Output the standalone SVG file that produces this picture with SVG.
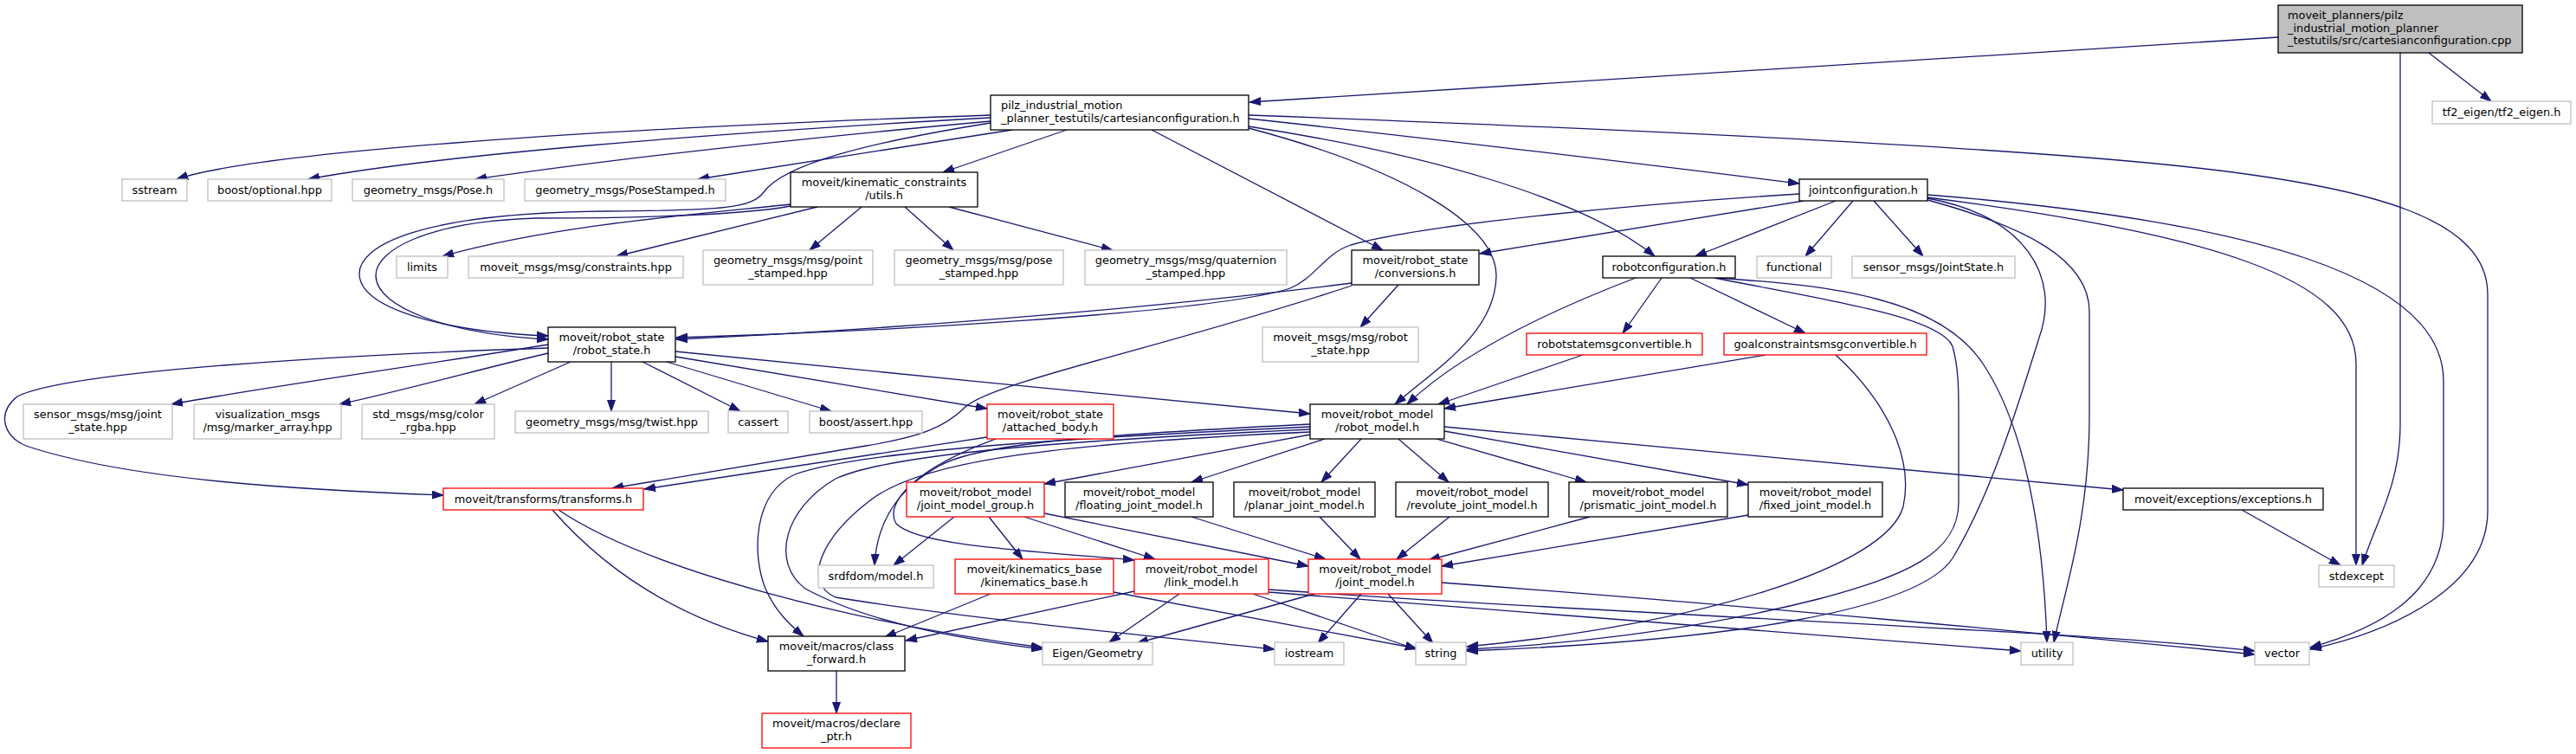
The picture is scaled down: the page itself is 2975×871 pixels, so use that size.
<svg xmlns="http://www.w3.org/2000/svg" width="2975" height="871" viewBox="0 0 2975 871">
<defs>
<marker id="a" markerWidth="14" markerHeight="10" refX="13" refY="5" orient="auto" markerUnits="userSpaceOnUse"><path d="M0,0.5 L13,5 L0,9.5 z" fill="#191970" stroke="#191970" stroke-width="1"/></marker>
</defs>
<style>
.n{fill:#fff;stroke:#000;stroke-width:1.3}
.g{fill:#fff;stroke:#bfbfbf;stroke-width:1.3}
.r{fill:#fff;stroke:#ff0000;stroke-width:1.3}
.root{fill:#bfbfbf;stroke:#000;stroke-width:1.3}
text{font-family:"DejaVu Sans","Liberation Sans",sans-serif;font-size:12.9px;fill:#000}
.c{text-anchor:middle}
#edges path{fill:none;stroke:#191970;stroke-width:1.3;marker-end:url(#a)}
</style>
<rect width="2975" height="871" fill="#fff"/>
<g id="edges">
<path d="M2631,43 L1443,118"/>
<path d="M2805,61 L2877,117"/>
<path d="M2772,61 L2772,490 C2772,560 2745,600 2728,653"/>
<path d="M2226,228 C2550,270 2721,320 2721,420 L2721,653"/>
<path d="M2226,225 C2600,255 2822,320 2822,440 L2822,600 C2822,690 2740,728 2668,748"/>
<path d="M1442,133 C1900,150 2300,170 2500,190 C2750,215 2873,255 2873,340 L2873,590 C2873,680 2760,730 2668,750"/>
<path d="M1442,137 C1700,165 1900,190 2078,212"/>
<path d="M1442,146 C1650,178 1830,230 1911,296"/>
<path d="M1442,148 C1620,195 1730,260 1728,320 C1726,385 1660,425 1611,467"/>
<path d="M1330,150 L1597,289"/>
<path d="M1232,150 L1089,199"/>
<path d="M1169,150 L806,207"/>
<path d="M1144,140 C900,162 700,185 549,207"/>
<path d="M1144,136 C800,155 500,180 356,207"/>
<path d="M1144,133 C700,148 300,175 204,207"/>
<path d="M1144,142 C1000,165 905,190 882,222 C868,240 840,243 700,244 C480,246 415,285 415,316 C415,356 510,383 633,388"/>
<path d="M913,238 C850,250 700,252 620,252 C490,256 434,290 434,318 C434,356 520,386 633,392"/>
<path d="M913,236 C800,248 640,260 511,296"/>
<path d="M944,239 L712,296"/>
<path d="M995,239 L935,289"/>
<path d="M1045,239 L1101,289"/>
<path d="M1096,239 L1285,289"/>
<path d="M1615,329 L1571,378"/>
<path d="M1561,327 C1300,360 1000,382 781,392"/>
<path d="M1561,330 C1350,400 1150,440 1115,470 C1090,495 1060,505 1000,515 L707,564"/>
<path d="M1140,505 L744,565"/>
<path d="M2078,224 C1900,235 1650,258 1560,283 C1530,293 1520,320 1490,333 C1400,362 1000,384 781,390"/>
<path d="M2083,232 L1709,293"/>
<path d="M2120,232 L1958,296"/>
<path d="M2140,232 L2085,296"/>
<path d="M2164,232 L2221,296"/>
<path d="M2226,229 C2340,250 2380,320 2355,390 C2330,470 2300,570 2255,645 C2215,705 2000,740 1694,752"/>
<path d="M2226,231 C2340,262 2413,300 2413,360 L2413,480 C2413,600 2385,680 2372,742"/>
<path d="M1889,321 C1800,355 1690,405 1625,467"/>
<path d="M1919,321 L1874,385"/>
<path d="M1952,321 L2085,385"/>
<path d="M1980,321 C2100,345 2240,365 2255,400 C2262,425 2262,450 2262,480 L2262,580 C2262,640 2200,665 2100,692 C1950,730 1800,745 1694,750"/>
<path d="M1982,321 C2120,330 2240,345 2290,420 C2340,495 2360,620 2364,742"/>
<path d="M1828,410 L1661,467"/>
<path d="M2039,410 L1668,472"/>
<path d="M2120,410 C2180,465 2210,530 2198,585 C2180,655 1960,722 1694,747"/>
<path d="M633,398 C500,420 300,448 198,467"/>
<path d="M633,408 C560,425 470,450 392,467"/>
<path d="M659,418 L548,467"/>
<path d="M706,418 L706,475"/>
<path d="M742,418 L855,475"/>
<path d="M770,418 L960,475"/>
<path d="M780,412 L1140,472"/>
<path d="M780,406 C1000,428 1300,458 1513,478"/>
<path d="M633,402 C400,410 80,428 20,458 C-5,478 5,505 30,515 C150,555 350,566 512,572"/>
<path d="M1150,507 C1060,540 1020,580 1035,605 C1060,630 1180,636 1310,647"/>
<path d="M1513,502 L1206,559"/>
<path d="M1530,507 L1376,557"/>
<path d="M1572,507 L1526,557"/>
<path d="M1615,507 L1673,557"/>
<path d="M1659,507 L1832,557"/>
<path d="M1668,498 L2019,560"/>
<path d="M1668,493 L2452,566"/>
<path d="M1513,493 C1300,503 1000,518 918,548 C870,570 868,640 884,680 C895,705 910,720 928,735"/>
<path d="M1513,496 C1250,508 1030,523 965,553 C905,588 890,650 930,680 C1000,718 1100,737 1204,750"/>
<path d="M1513,499 C1200,513 1060,535 1005,578 C950,620 925,672 965,690 C1100,712 1300,732 1472,750"/>
<path d="M1513,490 C1250,503 1130,513 1085,538 C1030,568 1012,612 1010,653"/>
<path d="M1102,597 L1032,653"/>
<path d="M1142,597 L1181,646"/>
<path d="M1183,597 L1334,646"/>
<path d="M1206,593 L1511,654"/>
<path d="M1376,597 L1531,646"/>
<path d="M1524,597 L1571,646"/>
<path d="M1674,597 L1613,646"/>
<path d="M1836,597 L1650,647"/>
<path d="M2019,595 L1665,654"/>
<path d="M1144,686 L1022,736"/>
<path d="M1286,684 L1636,749"/>
<path d="M1310,683 L1046,740"/>
<path d="M1362,686 L1281,742"/>
<path d="M1447,686 L1636,750"/>
<path d="M1465,684 L2334,752"/>
<path d="M1465,681 C1900,712 2400,728 2604,752"/>
<path d="M1665,673 C2000,698 2400,735 2604,756"/>
<path d="M1518,686 L1313,743"/>
<path d="M1572,686 L1522,743"/>
<path d="M1603,686 L1655,743"/>
<path d="M638,589 C700,660 780,712 887,741"/>
<path d="M645,589 C750,660 1000,722 1204,748"/>
<path d="M966,775 L966,824"/>
<path d="M2589,589 L2703,653"/>
</g>
<g id="n_cpp"><rect class="root" x="2631" y="6" width="282" height="55"/><text x="2642" y="22">moveit_planners/pilz</text><text x="2642" y="37">_industrial_motion_planner</text><text x="2642" y="51">_testutils/src/cartesianconfiguration.cpp</text></g>
<g id="n_tf2"><rect class="g" x="2809" y="117" width="160" height="26"/><text class="c" x="2889" y="134">tf2_eigen/tf2_eigen.h</text></g>
<g id="n_pilz"><rect class="n" x="1144" y="110" width="298" height="40"/><text x="1156" y="126">pilz_industrial_motion</text><text x="1156" y="141">_planner_testutils/cartesianconfiguration.h</text></g>
<g id="n_sstream"><rect class="g" x="141" y="207" width="75" height="25"/><text class="c" x="178.5" y="224">sstream</text></g>
<g id="n_optional"><rect class="g" x="240" y="207" width="143" height="25"/><text class="c" x="311.5" y="224">boost/optional.hpp</text></g>
<g id="n_pose"><rect class="g" x="407" y="207" width="175" height="25"/><text class="c" x="494.5" y="224">geometry_msgs/Pose.h</text></g>
<g id="n_posestamped"><rect class="g" x="606" y="207" width="232" height="25"/><text class="c" x="722" y="224">geometry_msgs/PoseStamped.h</text></g>
<g id="n_utils"><rect class="n" x="913" y="199" width="216" height="40"/><text class="c" x="1021" y="215">moveit/kinematic_constraints</text><text class="c" x="1021" y="230">/utils.h</text></g>
<g id="n_jc"><rect class="n" x="2078" y="207" width="148" height="25"/><text class="c" x="2152" y="224">jointconfiguration.h</text></g>
<g id="n_limits"><rect class="g" x="458" y="296" width="59" height="25"/><text class="c" x="487.5" y="313">limits</text></g>
<g id="n_constraints"><rect class="g" x="541" y="296" width="248" height="25"/><text class="c" x="665" y="313">moveit_msgs/msg/constraints.hpp</text></g>
<g id="n_point"><rect class="g" x="812" y="289" width="196" height="40"/><text class="c" x="910" y="305">geometry_msgs/msg/point</text><text class="c" x="910" y="320">_stamped.hpp</text></g>
<g id="n_posest"><rect class="g" x="1033" y="289" width="195" height="40"/><text class="c" x="1130.5" y="305">geometry_msgs/msg/pose</text><text class="c" x="1130.5" y="320">_stamped.hpp</text></g>
<g id="n_quat"><rect class="g" x="1253" y="289" width="233" height="40"/><text class="c" x="1369.5" y="305">geometry_msgs/msg/quaternion</text><text class="c" x="1369.5" y="320">_stamped.hpp</text></g>
<g id="n_conv"><rect class="n" x="1561" y="289" width="147" height="40"/><text class="c" x="1634.5" y="305">moveit/robot_state</text><text class="c" x="1634.5" y="320">/conversions.h</text></g>
<g id="n_rc"><rect class="n" x="1851" y="296" width="153" height="25"/><text class="c" x="1927.5" y="313">robotconfiguration.h</text></g>
<g id="n_functional"><rect class="g" x="2029" y="296" width="86" height="25"/><text class="c" x="2072" y="313">functional</text></g>
<g id="n_jointstate"><rect class="g" x="2139" y="296" width="188" height="25"/><text class="c" x="2233" y="313">sensor_msgs/JointState.h</text></g>
<g id="n_rs"><rect class="n" x="633" y="378" width="147" height="40"/><text class="c" x="706.5" y="394">moveit/robot_state</text><text class="c" x="706.5" y="409">/robot_state.h</text></g>
<g id="n_msgrs"><rect class="g" x="1458" y="378" width="180" height="40"/><text class="c" x="1548" y="394">moveit_msgs/msg/robot</text><text class="c" x="1548" y="409">_state.hpp</text></g>
<g id="n_rsmc"><rect class="r" x="1763" y="385" width="203" height="25"/><text class="c" x="1864.5" y="402">robotstatemsgconvertible.h</text></g>
<g id="n_gc"><rect class="r" x="1991" y="385" width="234" height="25"/><text class="c" x="2108" y="402">goalconstraintsmsgconvertible.h</text></g>
<g id="n_js"><rect class="g" x="27" y="467" width="172" height="40"/><text class="c" x="113" y="483">sensor_msgs/msg/joint</text><text class="c" x="113" y="498">_state.hpp</text></g>
<g id="n_vis"><rect class="g" x="224" y="467" width="170" height="40"/><text class="c" x="309" y="483">visualization_msgs</text><text class="c" x="309" y="498">/msg/marker_array.hpp</text></g>
<g id="n_color"><rect class="g" x="418" y="467" width="153" height="40"/><text class="c" x="494.5" y="483">std_msgs/msg/color</text><text class="c" x="494.5" y="498">_rgba.hpp</text></g>
<g id="n_twist"><rect class="g" x="595" y="475" width="223" height="25"/><text class="c" x="706.5" y="492">geometry_msgs/msg/twist.hpp</text></g>
<g id="n_cassert"><rect class="g" x="841" y="475" width="69" height="25"/><text class="c" x="875.5" y="492">cassert</text></g>
<g id="n_bassert"><rect class="g" x="935" y="475" width="130" height="25"/><text class="c" x="1000" y="492">boost/assert.hpp</text></g>
<g id="n_ab"><rect class="r" x="1140" y="467" width="146" height="40"/><text class="c" x="1213" y="483">moveit/robot_state</text><text class="c" x="1213" y="498">/attached_body.h</text></g>
<g id="n_rm"><rect class="n" x="1513" y="467" width="155" height="40"/><text class="c" x="1590.5" y="483">moveit/robot_model</text><text class="c" x="1590.5" y="498">/robot_model.h</text></g>
<g id="n_tr"><rect class="r" x="512" y="564" width="231" height="25"/><text class="c" x="627.5" y="581">moveit/transforms/transforms.h</text></g>
<g id="n_jmg"><rect class="r" x="1047" y="557" width="159" height="40"/><text class="c" x="1126.5" y="573">moveit/robot_model</text><text class="c" x="1126.5" y="588">/joint_model_group.h</text></g>
<g id="n_floating"><rect class="n" x="1230" y="557" width="171" height="40"/><text class="c" x="1315.5" y="573">moveit/robot_model</text><text class="c" x="1315.5" y="588">/floating_joint_model.h</text></g>
<g id="n_planar"><rect class="n" x="1425" y="557" width="163" height="40"/><text class="c" x="1506.5" y="573">moveit/robot_model</text><text class="c" x="1506.5" y="588">/planar_joint_model.h</text></g>
<g id="n_revolute"><rect class="n" x="1612" y="557" width="176" height="40"/><text class="c" x="1700" y="573">moveit/robot_model</text><text class="c" x="1700" y="588">/revolute_joint_model.h</text></g>
<g id="n_prismatic"><rect class="n" x="1812" y="557" width="183" height="40"/><text class="c" x="1903.5" y="573">moveit/robot_model</text><text class="c" x="1903.5" y="588">/prismatic_joint_model.h</text></g>
<g id="n_fixed"><rect class="n" x="2019" y="557" width="155" height="40"/><text class="c" x="2096.5" y="573">moveit/robot_model</text><text class="c" x="2096.5" y="588">/fixed_joint_model.h</text></g>
<g id="n_exc"><rect class="n" x="2452" y="564" width="231" height="25"/><text class="c" x="2567.5" y="581">moveit/exceptions/exceptions.h</text></g>
<g id="n_srdf"><rect class="g" x="945" y="653" width="133" height="26"/><text class="c" x="1011.5" y="670">srdfdom/model.h</text></g>
<g id="n_kb"><rect class="r" x="1103" y="646" width="183" height="40"/><text class="c" x="1194.5" y="662">moveit/kinematics_base</text><text class="c" x="1194.5" y="677">/kinematics_base.h</text></g>
<g id="n_lm"><rect class="r" x="1310" y="646" width="155" height="40"/><text class="c" x="1387.5" y="662">moveit/robot_model</text><text class="c" x="1387.5" y="677">/link_model.h</text></g>
<g id="n_jm"><rect class="r" x="1511" y="646" width="154" height="40"/><text class="c" x="1588" y="662">moveit/robot_model</text><text class="c" x="1588" y="677">/joint_model.h</text></g>
<g id="n_stdexcept"><rect class="g" x="2678" y="653" width="87" height="25"/><text class="c" x="2721.5" y="670">stdexcept</text></g>
<g id="n_cf"><rect class="n" x="887" y="735" width="158" height="40"/><text class="c" x="966" y="751">moveit/macros/class</text><text class="c" x="966" y="766">_forward.h</text></g>
<g id="n_eigen"><rect class="g" x="1204" y="742" width="127" height="26"/><text class="c" x="1267.5" y="759">Eigen/Geometry</text></g>
<g id="n_iostream"><rect class="g" x="1472" y="742" width="80" height="26"/><text class="c" x="1512" y="759">iostream</text></g>
<g id="n_string"><rect class="g" x="1635" y="742" width="58" height="26"/><text class="c" x="1664" y="759">string</text></g>
<g id="n_utility"><rect class="g" x="2334" y="742" width="60" height="26"/><text class="c" x="2364" y="759">utility</text></g>
<g id="n_vector"><rect class="g" x="2604" y="742" width="63" height="26"/><text class="c" x="2635.5" y="759">vector</text></g>
<g id="n_declare"><rect class="r" x="880" y="824" width="172" height="40"/><text class="c" x="966" y="840">moveit/macros/declare</text><text class="c" x="966" y="855">_ptr.h</text></g>
</svg>
